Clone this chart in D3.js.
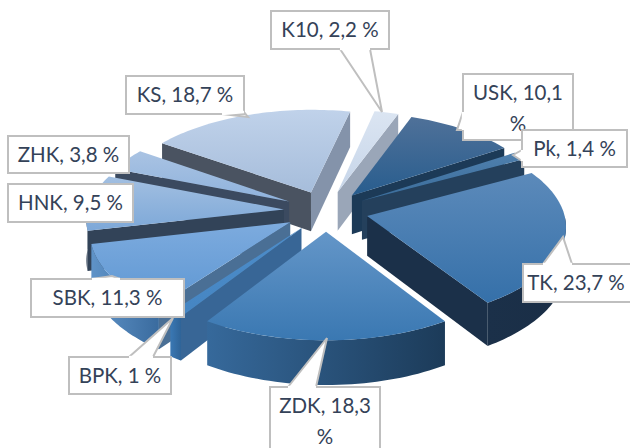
<!DOCTYPE html>
<html>
<head>
<meta charset="utf-8">
<script src="https://cdn.jsdelivr.net/npm/d3@7"></script>
<style>
  html, body { margin: 0; padding: 0; background: #fff; overflow: hidden; }
  svg { display: block; }
</style>
</head>
<body>
<svg></svg>
<script>
// data, clockwise from the top
var categories = ["K10", "USK", "Pk", "TK", "ZDK", "BPK", "SBK", "HNK", "ZHK", "KS"];
var shares = [2.2, 10.1, 1.4, 23.7, 18.3, 1, 11.3, 9.5, 3.8, 18.7];
var shareLabels = ["2,2", "10,1", "1,4", "23,7", "18,3", "1", "11,3", "9,5", "3,8", "18,7"];

// colours, same order as categories
var topLight = ["#dbe5f2", "#4f7199", "#4f80ae", "#5c8aba", "#6496c8", "#4d8dca", "#7dabde", "#a2bfe1", "#a9c3e3", "#c0d2ea"];
var topDark = ["#c6d5e9", "#285d8e", "#3a6c9a", "#3570a9", "#3a78b2", "#4585c2", "#5e97d3", "#7da8d8", "#8fb2dc", "#a6bddb"];
var wallStart = ["#8f9bad", "#1d3c5a", "#24405c", "#1b3049", "#1e3f60", "#386696", "#4a6f95", "#324358", "#3b4a60", "#4a5361"];
var wallEnd = ["#9aa6b8", "#1c3a57", "#24405c", "#1b3049", "#1e3f60", "#386696", "#4a6f95", "#324358", "#3b4a60", "#8493aa"];
var arcLeft = ["#9aa6b8", "#1b3550", "#20384f", "#1b3049", "#36699b", "#3a78b4", "#5f93c8", "#324358", "#3b4a60", "#4a5361"];
var arcRight = ["#9aa6b8", "#1b3550", "#20384f", "#1a2e46", "#1c3b59", "#2f6498", "#3a6b9e", "#2c3c50", "#3b4a60", "#4a5361"];

// callout boxes
var boxes = [
  { x: 271, y: 11, w: 118, h: 38, lines: 1, ptr: [[340, 49], [382, 112], [370, 49]] },
  { x: 463, y: 74, w: 110, h: 66, lines: 2, ptr: [[463, 112], [457, 130], [463, 130]] },
  { x: 522, y: 130, w: 105, h: 37, lines: 1, ptr: [[522, 150], [513, 155], [522, 161]] },
  { x: 523, y: 264, w: 112, h: 38, lines: 1, ptr: [[543, 264], [563, 237], [572, 264]] },
  { x: 270, y: 387, w: 110, h: 70, lines: 2, ptr: [[288, 387], [327, 338], [316, 387]] },
  { x: 69, y: 357, w: 102, h: 37, lines: 1, ptr: [[129, 357], [173, 318], [153, 357]] },
  { x: 31, y: 279, w: 153, h: 38, lines: 1, ptr: [[92, 279], [112, 276], [120, 279]] },
  { x: 8, y: 184, w: 125, h: 38, lines: 1, ptr: null },
  { x: 8, y: 136, w: 121, h: 37, lines: 1, ptr: null },
  { x: 126, y: 76, w: 118, h: 38, lines: 1, ptr: [[222, 114], [248, 117], [244, 112]] }
];

var width = 630, height = 448;
var cx = 326, cy = 211;      // pie centre
var rx = 196.5, ry = 94;     // radius on screen at the centre depth
var persp = 0.096;           // nearer parts are drawn bigger
var depth = 39.5;            // wall height
var explode = 0.215;         // how far each slice is pulled out
var rotation = 12.4 * Math.PI / 180;

var svg = d3.select("svg").attr("width", width).attr("height", height);
var defs = svg.append("defs");

var pie = d3.pie().sort(null)
  .startAngle(rotation)
  .endAngle(rotation + 2 * Math.PI);
var arcs = pie(shares);

// u,v on the unit disc (v towards the viewer), drop = distance below the top face
function project(u, v, drop) {
  var s = 1 / (1 - persp * v);
  return [cx + rx * u * s, cy + (ry * v + drop) * s];
}

var line = d3.line().curve(d3.curveLinearClosed);

function sliceGeom(d) {
  var mid = (d.startAngle + d.endAngle) / 2;
  var ou = explode * Math.sin(mid), ov = -explode * Math.cos(mid);
  return {
    at: function(a, r, drop) {
      return project(ou + r * Math.sin(a), ov - r * Math.cos(a), drop);
    },
    ov: ov
  };
}

function gradient(id, horizontal, c1, c2) {
  var g = defs.append("linearGradient").attr("id", id)
    .attr("x1", 0).attr("y1", 0)
    .attr("x2", horizontal ? 1 : 0).attr("y2", horizontal ? 0 : 1);
  g.append("stop").attr("offset", "0%").attr("stop-color", c1);
  g.append("stop").attr("offset", "100%").attr("stop-color", c2);
}

// back slices first
var order = d3.range(arcs.length).sort(function(a, b) {
  return sliceGeom(arcs[a]).ov - sliceGeom(arcs[b]).ov;
});

var sliceG = svg.selectAll("g.slice").data(order).enter().append("g").attr("class", "slice");

sliceG.each(function(i) {
  var d = arcs[i], geo = sliceGeom(d), g = d3.select(this);
  var a0 = d.startAngle, a1 = d.endAngle;
  gradient("top" + i, false, topLight[i], topDark[i]);
  gradient("arc" + i, true, arcLeft[i], arcRight[i]);

  // outer wall, only the part that faces the viewer
  var from = Math.max(a0, Math.PI / 2), to = Math.min(a1, 3 * Math.PI / 2);
  if (to > from) {
    var steps = d3.range(0, 41).map(function(k) { return from + (to - from) * k / 40; });
    var wall = steps.map(function(a) { return geo.at(a, 1, 0); })
      .concat(steps.slice().reverse().map(function(a) { return geo.at(a, 1, depth); }));
    g.append("path").attr("d", line(wall)).attr("fill", "url(#arc" + i + ")");
  }

  // side walls
  if (Math.sin(a0) < 0) {
    g.append("path")
      .attr("d", line([geo.at(a0, 0, 0), geo.at(a0, 1, 0), geo.at(a0, 1, depth), geo.at(a0, 0, depth)]))
      .attr("fill", wallStart[i]);
  }
  if (Math.sin(a1) > 0) {
    g.append("path")
      .attr("d", line([geo.at(a1, 0, 0), geo.at(a1, 1, 0), geo.at(a1, 1, depth), geo.at(a1, 0, depth)]))
      .attr("fill", wallEnd[i]);
  }

  // top face
  var n = Math.max(6, Math.round((a1 - a0) * 40));
  var rim = d3.range(0, n + 1).map(function(k) { return geo.at(a0 + (a1 - a0) * k / n, 1, 0); });
  g.append("path")
    .attr("d", line([geo.at(a0, 0, 0)].concat(rim)))
    .attr("fill", "url(#top" + i + ")");
});

// callouts go over the pie
var callout = svg.selectAll("g.callout").data(boxes).enter().append("g").attr("class", "callout");

callout.each(function(b, i) {
  var g = d3.select(this);
  if (b.ptr) {
    g.append("path").attr("d", d3.line()(b.ptr))
      .attr("fill", "#fff").attr("stroke", "#bfbfbf").attr("stroke-width", 2);
  }
  g.append("rect")
    .attr("x", b.x).attr("y", b.y).attr("width", b.w).attr("height", b.h)
    .attr("fill", "#fff").attr("stroke", "#bfbfbf").attr("stroke-width", 2);
  if (b.ptr) {
    // hide the box edge where the pointer joins it
    var p = b.ptr;
    g.append("path").attr("d", "M" + p[0] + "L" + p[2])
      .attr("stroke", "#fff").attr("stroke-width", 2.4);
  }
  var txt = categories[i] + ", " + shareLabels[i] + " %";
  var parts = b.lines === 2 ? [txt.slice(0, -2), "%"] : [txt];
  g.selectAll("text").data(parts).enter().append("text")
    .attr("x", b.x + b.w / 2 - (i === 3 ? 3 : 0))
    .attr("y", function(t, k) { return b.y + 26 + k * 31; })
    .attr("text-anchor", "middle")
    .attr("font-family", "Lato, 'Open Sans', sans-serif")
    .attr("font-size", 20.5)
    .attr("fill", "#344258")
    .text(function(t) { return t; });
});
</script>
</body>
</html>
